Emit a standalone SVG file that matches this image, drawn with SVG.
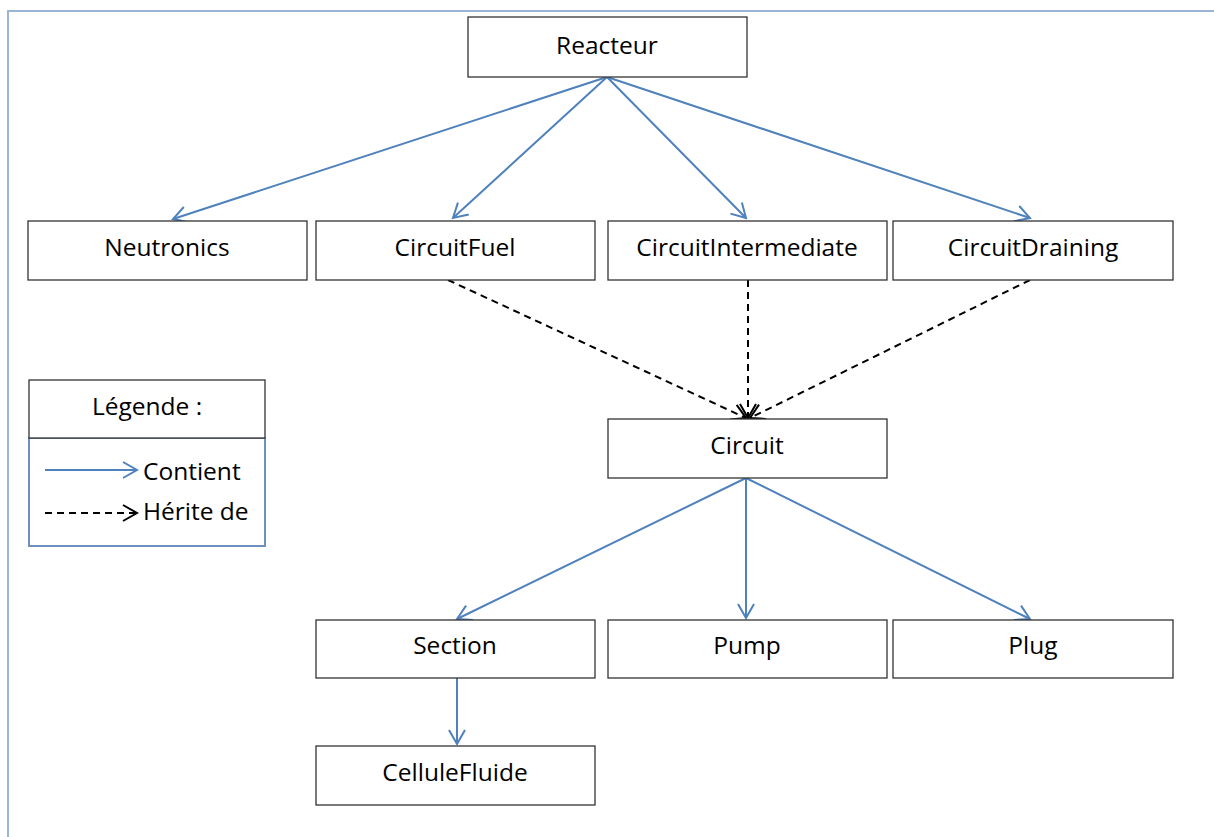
<svg xmlns="http://www.w3.org/2000/svg" width="1214" height="837" viewBox="0 0 1214 837">
<style>
.box{fill:#fff;stroke:#333;stroke-width:1.3}
.t{font-family:"Open Sans","Liberation Sans",sans-serif;font-size:24.5px;fill:#000;text-anchor:middle}
.tl{font-family:"Open Sans","Liberation Sans",sans-serif;font-size:24.5px;fill:#000}
.c{stroke:#4f81bd;stroke-width:2;fill:none}
.h{stroke:#000;stroke-width:2;fill:none;stroke-dasharray:7,5}
</style>
<defs>
<marker id="mc" viewBox="0 0 20 20" refX="18" refY="10" markerWidth="20" markerHeight="20" markerUnits="userSpaceOnUse" orient="auto">
<path d="M4,2 L18,10 L4,18" stroke="#4f81bd" stroke-width="2" fill="none"/>
</marker>
<marker id="mh" viewBox="0 0 20 20" refX="18" refY="10" markerWidth="20" markerHeight="20" markerUnits="userSpaceOnUse" orient="auto">
<path d="M4,2 L18,10 L4,18" stroke="#000" stroke-width="2" fill="none"/>
</marker>
</defs>
<rect width="1214" height="837" fill="#fff"/>
<path d="M8,837 L8,11 L1214,11" stroke="#9bb5d6" stroke-width="2" fill="none"/>
<g id="connectors">
<line class="c" x1="607" y1="77" x2="173" y2="219" marker-end="url(#mc)"/>
<line class="c" x1="607" y1="77" x2="453" y2="218" marker-end="url(#mc)"/>
<line class="c" x1="607" y1="77" x2="746" y2="218" marker-end="url(#mc)"/>
<line class="c" x1="607" y1="77" x2="1030" y2="218" marker-end="url(#mc)"/>
<line class="h" x1="448" y1="280" x2="746" y2="418" marker-end="url(#mh)"/>
<line class="h" x1="748" y1="280" x2="748" y2="418" marker-end="url(#mh)"/>
<line class="h" x1="1030" y1="280" x2="750" y2="418" marker-end="url(#mh)"/>
<line class="c" x1="746" y1="478" x2="457" y2="619" marker-end="url(#mc)"/>
<line class="c" x1="746" y1="478" x2="746" y2="618" marker-end="url(#mc)"/>
<line class="c" x1="746" y1="478" x2="1030" y2="619" marker-end="url(#mc)"/>
<line class="c" x1="457" y1="678" x2="457" y2="744" marker-end="url(#mc)"/>
</g>
<g id="Reacteur"><rect class="box" x="468" y="17" width="279" height="60"/><text class="t" x="607" y="54">Reacteur</text></g>
<g id="Neutronics"><rect class="box" x="28" y="221" width="279" height="59"/><text class="t" x="167" y="256">Neutronics</text></g>
<g id="CircuitFuel"><rect class="box" x="316" y="221" width="279" height="59"/><text class="t" x="455" y="256">CircuitFuel</text></g>
<g id="CircuitIntermediate"><rect class="box" x="608" y="221" width="279" height="59"/><text class="t" x="747" y="256">CircuitIntermediate</text></g>
<g id="CircuitDraining"><rect class="box" x="893" y="221" width="280" height="59"/><text class="t" x="1033" y="256">CircuitDraining</text></g>
<g id="Circuit"><rect class="box" x="608" y="419" width="279" height="59"/><text class="t" x="747" y="454">Circuit</text></g>
<g id="Section"><rect class="box" x="316" y="620" width="279" height="58"/><text class="t" x="455" y="654">Section</text></g>
<g id="Pump"><rect class="box" x="608" y="620" width="279" height="58"/><text class="t" x="747" y="654">Pump</text></g>
<g id="Plug"><rect class="box" x="893" y="620" width="280" height="58"/><text class="t" x="1033" y="654">Plug</text></g>
<g id="CelluleFluide"><rect class="box" x="316" y="746" width="279" height="59"/><text class="t" x="455" y="781">CelluleFluide</text></g>
<g id="legend">
<rect x="29" y="438" width="236" height="108" fill="#fff" stroke="#6f8fc0" stroke-width="2"/>
<rect class="box" x="29" y="380" width="236" height="58"/>
<text class="t" x="147" y="415">Légende :</text>
<line class="c" x1="45" y1="470" x2="137" y2="470" marker-end="url(#mc)"/>
<text class="tl" x="143" y="480">Contient</text>
<line class="h" x1="45" y1="513" x2="137" y2="513" marker-end="url(#mh)"/>
<text class="tl" x="143" y="520">Hérite de</text>
</g>
</svg>
